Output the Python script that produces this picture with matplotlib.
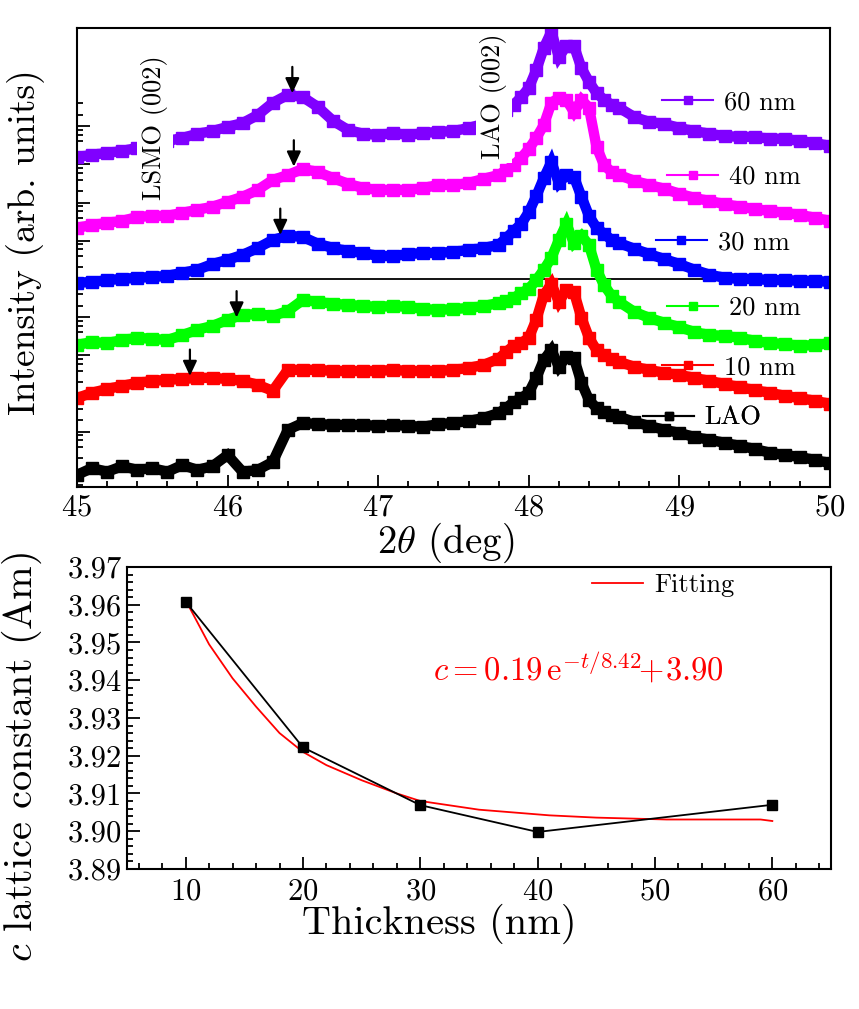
import numpy as np
import matplotlib
matplotlib.use("Agg")
import matplotlib.pyplot as plt
from matplotlib.lines import Line2D
from matplotlib.ticker import FixedLocator, MultipleLocator, FormatStrFormatter, NullFormatter

plt.rcParams['font.family'] = 'cmr10'
plt.rcParams['mathtext.fontset'] = 'cm'
plt.rcParams['axes.formatter.use_mathtext'] = True
plt.rcParams['axes.unicode_minus'] = False

# ---- XRD scans (log10 of intensity, arb. units) ----
two_theta = [45.0, 45.1, 45.2, 45.3, 45.4, 45.5, 45.6, 45.7, 45.8, 45.9,
             46.0, 46.1, 46.2, 46.3, 46.4, 46.5, 46.6, 46.7, 46.8, 46.9,
             47.0, 47.1, 47.2, 47.3, 47.4, 47.5, 47.6, 47.7, 47.8,
             47.85, 47.9, 47.95, 48.0, 48.05, 48.1, 48.15, 48.2, 48.25, 48.3,
             48.35, 48.4, 48.45, 48.5, 48.55,
             48.6, 48.7, 48.8, 48.9, 49.0, 49.1, 49.2, 49.3, 49.4, 49.5,
             49.6, 49.7, 49.8, 49.9, 50.0]

log_i_60nm = [8.19, 8.25, 8.30, 8.35, 8.43, 8.48, 8.61, 8.69, 8.80, 8.87,
              8.98, 9.08, 9.29, 9.61, 9.82, 9.76, 9.50, 9.14, 8.90, 8.80,
              8.77, 8.82, 8.77, 8.82, 8.85, 8.87, 8.95, 9.06, 9.27,
              9.42, 9.56, 9.76, 10.00, 10.47, 11.05, 11.47, 10.81, 11.10, 11.10,
              10.52, 10.16, 9.87, 9.69, 9.56,
              9.48, 9.24, 9.11, 9.06, 8.95, 8.87, 8.80, 8.74, 8.72, 8.72,
              8.67, 8.67, 8.61, 8.56, 8.48]

log_i_40nm = [6.34, 6.41, 6.47, 6.52, 6.62, 6.65, 6.65, 6.73, 6.81, 6.89,
              7.02, 7.15, 7.33, 7.59, 7.72, 7.88, 7.80, 7.64, 7.49, 7.38,
              7.33, 7.33, 7.33, 7.38, 7.46, 7.46, 7.51, 7.62, 7.72,
              7.85, 7.98, 8.17, 8.40, 8.69, 9.03, 9.61, 9.74, 9.69, 9.37,
              9.69, 9.48, 8.46, 7.98, 7.80,
              7.72, 7.57, 7.46, 7.36, 7.23, 7.12, 7.04, 6.96, 6.89, 6.83,
              6.78, 6.73, 6.68, 6.60, 6.52]

log_i_30nm = [4.90, 4.92, 4.97, 5.00, 5.03, 5.05, 5.08, 5.16, 5.24, 5.39,
              5.50, 5.63, 5.81, 6.02, 6.13, 6.10, 5.92, 5.81, 5.73, 5.68,
              5.60, 5.60, 5.65, 5.68, 5.68, 5.71, 5.76, 5.81, 5.89,
              6.07, 6.26, 6.44, 6.75, 7.17, 7.64, 8.06, 7.51, 7.72, 7.67,
              7.15, 6.65, 6.34, 6.18, 6.02,
              5.94, 5.79, 5.65, 5.52, 5.39, 5.24, 5.11, 5.03, 5.00, 5.00,
              4.97, 4.97, 4.95, 4.95, 4.92]

log_i_20nm = [3.27, 3.35, 3.32, 3.40, 3.46, 3.43, 3.40, 3.53, 3.67, 3.77,
              3.93, 4.06, 4.08, 4.03, 4.16, 4.45, 4.40, 4.35, 4.32, 4.29,
              4.27, 4.29, 4.27, 4.21, 4.19, 4.21, 4.24, 4.29, 4.37,
              4.42, 4.50, 4.63, 4.74, 4.97, 5.24, 5.55, 6.02, 6.44, 5.94,
              6.13, 5.89, 5.24, 4.84, 4.56,
              4.40, 4.14, 3.98, 3.85, 3.74, 3.61, 3.53, 3.51, 3.46, 3.38,
              3.32, 3.30, 3.25, 3.27, 3.32]

log_i_10nm = [1.88, 2.02, 2.12, 2.20, 2.28, 2.33, 2.36, 2.38, 2.41, 2.41,
              2.38, 2.33, 2.23, 2.07, 2.62, 2.62, 2.62, 2.59, 2.59, 2.59,
              2.59, 2.62, 2.59, 2.59, 2.59, 2.62, 2.67, 2.75, 2.91,
              3.09, 3.25, 3.32, 3.46, 3.93, 4.58, 4.87, 4.40, 4.71, 4.66,
              3.98, 3.46, 3.14, 3.01, 2.91,
              2.83, 2.70, 2.62, 2.54, 2.49, 2.41, 2.33, 2.25, 2.17, 2.09,
              2.02, 1.94, 1.88, 1.81, 1.73]

log_i_lao = [-0.13, 0.05, -0.05, 0.10, 0.00, 0.05, -0.05, 0.13, 0.00, 0.10,
             0.39, -0.05, 0.00, 0.21, 1.05, 1.23, 1.20, 1.18, 1.18, 1.18,
             1.15, 1.18, 1.15, 1.13, 1.20, 1.23, 1.28, 1.36, 1.49,
             1.62, 1.78, 1.88, 2.02, 2.41, 2.88, 3.14, 2.70, 2.96, 2.93,
             2.28, 1.83, 1.62, 1.52, 1.44,
             1.39, 1.26, 1.15, 1.05, 0.97, 0.86, 0.79, 0.71, 0.63, 0.55,
             0.45, 0.39, 0.34, 0.26, 0.18]

sample_names = ["60 nm", "40 nm", "30 nm", "20 nm", "10 nm", "LAO"]
sample_colors = ["#8000ff", "#ff00ff", "#0000ff", "#00ff00", "#ff0000", "#000000"]
scans = [log_i_60nm, log_i_40nm, log_i_30nm, log_i_20nm, log_i_10nm, log_i_lao]

# LSMO (002) peak markers: 60, 40, 30, 20, 10 nm
arrow_theta = [46.43, 46.44, 46.35, 46.06, 45.75]
arrow_tip_log = [9.86, 7.94, 6.15, 3.99, 2.46]

# ---- lattice constant vs thickness ----
thickness_nm = [10, 20, 30, 40, 60]
c_lattice = [3.9608, 3.9222, 3.9069, 3.8998, 3.9070]
fit_t = [10, 12, 14, 16, 18, 20, 22, 25, 28, 30, 35, 41, 45, 51, 59, 60]
fit_c = [3.9612, 3.9495, 3.9405, 3.9330, 3.9260, 3.9210, 3.9175, 3.9135,
         3.9100, 3.9080, 3.9057, 3.9042, 3.9036, 3.9031, 3.9031, 3.9027]

fig = plt.figure(figsize=(8.59, 10.09), dpi=100)
ax1 = fig.add_axes([0.0896, 0.5174, 0.8766, 0.4549])
ax2 = fig.add_axes([0.1478, 0.1388, 0.8196, 0.2993])

# top panel
ax1.set_yscale("log")
ax1.axhline(1e5, color="k", lw=1.3, zorder=1.5)
for name, col, vals in zip(sample_names, sample_colors, scans):
    ax1.plot(two_theta, 10 ** np.array(vals), color=col, lw=7.5, marker="s", ms=9,
             mec=col, solid_joinstyle="miter", zorder=2)

for th, tip in zip(arrow_theta, arrow_tip_log):
    ax1.annotate("", xy=(th, 10 ** tip), xytext=(0, 19), textcoords="offset points",
                 arrowprops=dict(arrowstyle="-|>,head_length=0.9,head_width=0.42",
                                 color="k", lw=1.6, shrinkA=0, shrinkB=0), zorder=4)

ax1.text(0.1036, 0.782, "LSMO (002)", rotation=90, ha="center", va="center",
         fontsize=19, transform=ax1.transAxes, zorder=2.2,
         bbox=dict(facecolor="white", edgecolor="none", pad=3))
ax1.text(0.5538, 0.852, "LAO (002)", rotation=90, ha="center", va="center",
         fontsize=19, transform=ax1.transAxes, zorder=2.2,
         bbox=dict(facecolor="white", edgecolor="none", pad=3))

legend_anchor = [(0.777, 0.837), (0.784, 0.675), (0.769, 0.532),
                 (0.784, 0.390), (0.777, 0.261), (0.752, 0.150)]
for name, col, anchor in zip(sample_names, sample_colors, legend_anchor):
    h = Line2D([], [], color=col, lw=1.5, marker="s", ms=6, mec=col)
    leg = ax1.legend(handles=[h], labels=[name], loc="center left", bbox_to_anchor=anchor,
                     frameon=False, fontsize=19, handlelength=1.93, handletextpad=0.4,
                     borderpad=0, borderaxespad=0)
    ax1.add_artist(leg)

ax1.set_xlim(45, 50)
ax1.set_ylim(10 ** -0.445, 10 ** 11.57)
ax1.xaxis.set_major_locator(MultipleLocator(1))
ax1.xaxis.set_minor_locator(MultipleLocator(0.2))
ax1.yaxis.set_major_locator(FixedLocator([10.0 ** k for k in range(0, 10)]))
ax1.yaxis.set_minor_locator(FixedLocator([m * 10.0 ** k for k in range(-1, 10)
                                          for m in (2, 4, 6, 8) if m * 10.0 ** k <= 4e9]))
ax1.yaxis.set_major_formatter(NullFormatter())
ax1.yaxis.set_minor_formatter(NullFormatter())
ax1.set_xlabel(r"$2\theta$ (deg)", fontsize=28)
ax1.xaxis.set_label_coords(0.489, -0.074)
ax1.set_ylabel("Intensity (arb. units)", fontsize=27)
ax1.yaxis.set_label_coords(-0.0425, 0.533)

# bottom panel
ax2.plot(thickness_nm, c_lattice, color="k", lw=1.3, marker="s", ms=6.5, zorder=3)
ax2.plot(fit_t, fit_c, color="red", lw=1.3, label="Fitting", zorder=2)
ax2.legend(loc="center left", bbox_to_anchor=(0.6605, 0.940), frameon=False, fontsize=19,
           handlelength=1.93, handletextpad=0.42, borderpad=0, borderaxespad=0)
ax2.text(0.435, 0.666, r"$c = 0.19\,\mathrm{e}^{-t/8.42}\!\!+\!3.90$", color="red",
         fontsize=23.5, ha="left", va="center", transform=ax2.transAxes)
ax2.set_xlim(5, 65)
ax2.set_ylim(3.89, 3.97)
ax2.xaxis.set_major_locator(MultipleLocator(10))
ax2.xaxis.set_minor_locator(MultipleLocator(2))
ax2.yaxis.set_major_locator(MultipleLocator(0.01))
ax2.yaxis.set_minor_locator(MultipleLocator(0.002))
ax2.yaxis.set_major_formatter(FormatStrFormatter("%.2f"))
ax2.set_xlabel("Thickness (nm)", fontsize=29)
ax2.xaxis.set_label_coords(0.444, -0.116)
ax2.set_ylabel(r"$c$ lattice constant (Am)", fontsize=29)
ax2.yaxis.set_label_coords(-0.118, 0.371)

for ax in (ax1, ax2):
    for sp in ax.spines.values():
        sp.set_linewidth(1.5)
    ax.tick_params(which="both", direction="in", top=False, right=False, width=1.3)
    ax.tick_params(which="major", length=9, labelsize=22)
    ax.tick_params(which="minor", length=4.5)
ax1.tick_params(axis="x", pad=5)
ax2.tick_params(axis="x", pad=6.5)
ax2.tick_params(axis="y", pad=3.6)

fig.savefig("out.png", dpi=100)
